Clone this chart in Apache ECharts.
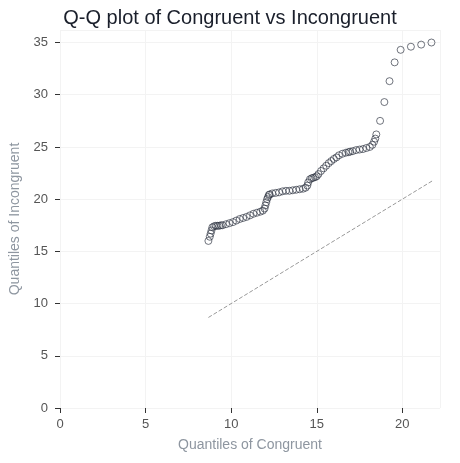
<!DOCTYPE html>
<html lang="en">
<head>
    <meta charset="UTF-8">
    <title>Q-Q plot</title>
    <script src="https://cdn.jsdelivr.net/npm/echarts@6/dist/echarts.min.js"></script>
    <style>
        html, body { margin: 0; padding: 0; background: #fff; }
        #main { width: 460px; height: 463px; }
    </style>
</head>
<body>
<div id="main"></div>
<script type="text/javascript">
    // sorted quantiles
    var congruent = [8.67, 8.75, 8.8, 8.85, 8.9, 9.0, 9.1, 9.2, 9.3, 9.4, 9.5, 9.7, 9.9, 10.1, 10.3, 10.5, 10.7, 10.9, 11.1, 11.3, 11.5, 11.7, 11.85, 11.95, 12.0, 12.05, 12.1, 12.15, 12.2, 12.25, 12.4, 12.6, 12.8, 13.0, 13.2, 13.4, 13.6, 13.8, 14.0, 14.2, 14.35, 14.45, 14.5, 14.6, 14.7, 14.8, 14.9, 15.0, 15.1, 15.25, 15.4, 15.55, 15.7, 15.85, 16.0, 16.15, 16.3, 16.5, 16.7, 16.85, 16.95, 17.1, 17.3, 17.5, 17.7, 17.9, 18.1, 18.25, 18.35, 18.42, 18.48, 18.7, 18.95, 19.25, 19.55, 19.9, 20.5, 21.1, 21.7];
    var incongruent = [16.0, 16.4, 16.7, 17.0, 17.3, 17.4, 17.45, 17.45, 17.45, 17.5, 17.5, 17.6, 17.7, 17.8, 17.95, 18.1, 18.2, 18.3, 18.45, 18.6, 18.7, 18.8, 18.9, 19.1, 19.4, 19.7, 20.0, 20.2, 20.4, 20.45, 20.55, 20.6, 20.65, 20.75, 20.8, 20.8, 20.85, 20.9, 20.95, 21.0, 21.1, 21.3, 21.6, 21.9, 22.0, 22.05, 22.1, 22.2, 22.4, 22.7, 22.95, 23.2, 23.45, 23.65, 23.85, 24.0, 24.2, 24.35, 24.45, 24.5, 24.55, 24.6, 24.7, 24.75, 24.8, 24.9, 25.0, 25.2, 25.5, 25.8, 26.2, 27.5, 29.3, 31.3, 33.1, 34.3, 34.6, 34.8, 35.0];
    var refLine = [[8.67, 8.67], [21.8, 21.8]];

    var points = congruent.map(function (x, i) { return [x, incongruent[i]]; });
    var chart = echarts.init(document.getElementById('main'));
    var font = 'Liberation Sans, Arial, sans-serif';
    var axisName = { color: '#8e96a0', fontSize: 14, fontFamily: font };
    var label = { color: '#555', fontSize: 13, fontFamily: font };
    chart.setOption({
        title: { text: 'Q-Q plot of Congruent vs Incongruent', left: 'center', top: 3,
            textStyle: { color: '#1a1f2b', fontSize: 20, fontWeight: 'normal', fontFamily: font } },
        grid: { left: 57, right: 20, top: 30, bottom: 55 },
        xAxis: { type: 'value', min: 0, max: 22.2, interval: 5, name: 'Quantiles of Congruent',
            nameLocation: 'middle', nameGap: 30, nameTextStyle: axisName,
            axisLine: { show: false }, axisTick: { show: true, length: 5, lineStyle: { color: '#333' } },
            axisLabel: Object.assign({ margin: 10, showMaxLabel: false }, label),
            splitLine: { lineStyle: { color: '#f3f3f3' } } },
        yAxis: { type: 'value', min: 0, max: 36.2, interval: 5, name: 'Quantiles of Incongruent',
            nameLocation: 'middle', nameGap: 38, nameTextStyle: axisName,
            axisLine: { show: false }, axisTick: { show: true, length: 5, lineStyle: { color: '#333' } },
            axisLabel: Object.assign({ margin: 12, showMaxLabel: false }, label),
            splitLine: { lineStyle: { color: '#f3f3f3' } } },
        series: [
            { type: 'line', data: refLine, symbol: 'none', silent: true,
              lineStyle: { color: '#999', width: 1, type: [4, 2] } },
            { type: 'scatter', data: points, symbol: 'circle', symbolSize: 7,
              itemStyle: { color: 'rgba(255,255,255,0)', borderColor: '#2c3340', borderWidth: 0.8, opacity: 0.85 } }
        ]
    });
</script>
</body>
</html>
